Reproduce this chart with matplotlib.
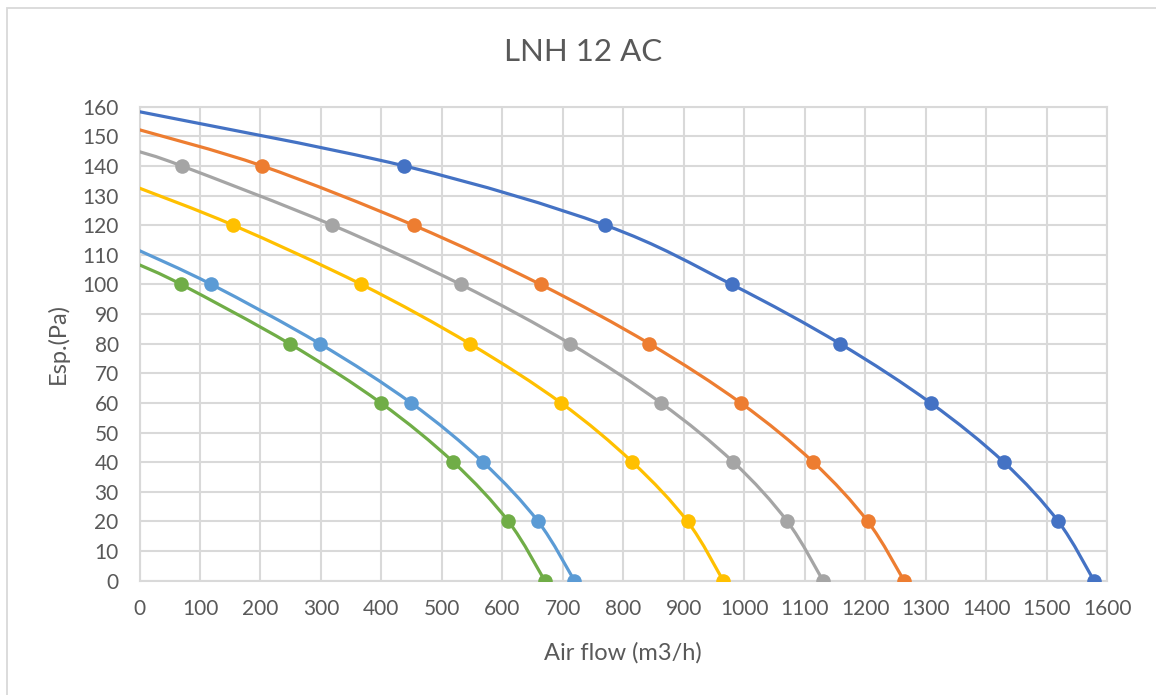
import matplotlib
matplotlib.use("Agg")
import matplotlib.pyplot as plt
from matplotlib.path import Path
from matplotlib.patches import PathPatch, Rectangle

plt.rcParams['font.family'] = ['Lato', 'DejaVu Sans']

title = "LNH 12 AC"
x_label = "Air flow (m3/h)"
y_label = "Esp.(Pa)"
x_ticks = list(range(0, 1601, 100))
y_ticks = list(range(0, 161, 10))

flow_blue = [0, 438, 770, 979, 1158, 1308, 1429, 1519, 1578]
esp_blue = [158.3, 140, 120, 100, 80, 60, 40, 20, 0]
flow_orange = [0, 203, 453, 663, 843, 994, 1114, 1204, 1264]
esp_orange = [152.2, 140, 120, 100, 80, 60, 40, 20, 0]
flow_gray = [0, 70, 319, 531, 712, 862, 982, 1071, 1130]
esp_gray = [144.8, 140, 120, 100, 80, 60, 40, 20, 0]
flow_yellow = [0, 155, 367, 546, 697, 815, 906, 965]
esp_yellow = [132.5, 120, 100, 80, 60, 40, 20, 0]
flow_lblue = [0, 119, 298, 449, 568, 659, 719]
esp_lblue = [111.4, 100, 80, 60, 40, 20, 0]
flow_green = [0, 69, 248, 399, 519, 610, 670]
esp_green = [106.6, 100, 80, 60, 40, 20, 0]

series = [
    (flow_blue, esp_blue, "#4472C4"),
    (flow_orange, esp_orange, "#ED7D31"),
    (flow_gray, esp_gray, "#A5A5A5"),
    (flow_yellow, esp_yellow, "#FFC000"),
    (flow_lblue, esp_lblue, "#5B9BD5"),
    (flow_green, esp_green, "#70AD47"),
]


def smooth_path(xs, ys):
    pts = list(zip(xs, ys))
    n = len(pts)
    verts = [pts[0]]
    codes = [Path.MOVETO]
    for i in range(n - 1):
        p0 = pts[i - 1] if i > 0 else pts[i]
        p1 = pts[i]
        p2 = pts[i + 1]
        p3 = pts[i + 2] if i + 2 < n else pts[i + 1]
        c1 = (p1[0] + (p2[0] - p0[0]) / 6.0, p1[1] + (p2[1] - p0[1]) / 6.0)
        c2 = (p2[0] - (p3[0] - p1[0]) / 6.0, p2[1] - (p3[1] - p1[1]) / 6.0)
        verts += [c1, c2, p2]
        codes += [Path.CURVE4] * 3
    return Path(verts, codes)


fig = plt.figure(figsize=(11.56, 6.95), dpi=100)
ax = fig.add_axes([139.5 / 1156, 1 - 580.7 / 695, (1107.3 - 139.5) / 1156, (580.7 - 106.7) / 695])

text_color = "#595959"
grid_color = "#D9D9D9"

for xs, ys, col in series:
    ax.add_patch(PathPatch(smooth_path(xs, ys), facecolor='none', edgecolor=col,
                           lw=2.3, capstyle='round', joinstyle='round', zorder=3))
    ax.plot(xs[1:], ys[1:], linestyle='none', marker='o', markersize=10.5,
            color=col, markeredgewidth=0, zorder=4)

ax.set_xlim(0, 1600)
ax.set_ylim(0, 160)
ax.set_xticks(x_ticks)
ax.set_yticks(y_ticks)
ax.set_xticklabels([str(t) for t in x_ticks])
ax.set_yticklabels([str(t) for t in y_ticks])
ax.tick_params(axis='both', length=0, labelsize=15, colors=text_color)
ax.tick_params(axis='y', pad=15)
ax.tick_params(axis='x', pad=13)
ax.grid(True, color=grid_color, lw=1.5, zorder=0)
ax.set_axisbelow(True)
for s in ax.spines.values():
    s.set_color(grid_color)
    s.set_linewidth(1.5)

fig.text(0.504, 0.925, title, ha='center', va='center', fontsize=22.5, color=text_color)
fig.text(623 / 1156, 1 - 653 / 695, x_label, ha='center', va='center', fontsize=17, color=text_color)
fig.text(58 / 1156, 1 - 344 / 695, y_label, ha='center', va='center', rotation=90,
         fontsize=17, color=text_color)

fig.patches.append(Rectangle((6.5 / 1156, -0.05), 1.2, 1 - 8 / 695 + 0.05, transform=fig.transFigure,
                             facecolor='none', edgecolor=grid_color, lw=1.3))

fig.savefig("out.png", dpi=100, facecolor='white')
